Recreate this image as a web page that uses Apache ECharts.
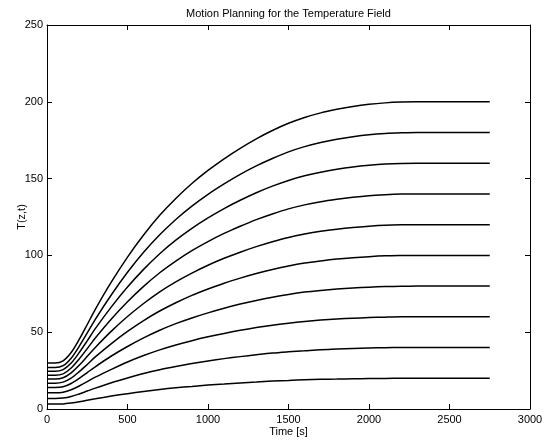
<!DOCTYPE html>
<html>
<head>
<meta charset="utf-8">
<script src="https://cdn.jsdelivr.net/npm/echarts@6/dist/echarts.min.js"></script>
<style>
  html, body { margin: 0; padding: 0; background: #fff; }
  #chart { width: 549px; height: 440px; }
</style>
</head>
<body>
<div id="chart"></div>
<script>
// Sample times [s]
const times = [0, 50, 100, 150, 200, 250, 300, 400, 500, 600, 700, 800, 900, 1000, 1100, 1200,
               1300, 1400, 1500, 1600, 1700, 1800, 1900, 2000, 2100, 2200, 2300, 2750];

// Temperature trajectories T(z,t) at ten positions z
const curve1  = [30, 30, 31.4, 36.8, 45.3, 55.0, 64.9, 82.7, 98.9, 113.3, 126.1, 137.1, 146.8, 155.3, 162.9, 169.7,
                 175.9, 181.3, 186.0, 189.8, 192.8, 195.1, 197.0, 198.4, 199.3, 199.8, 200, 200];
const curve2  = [27, 27, 28.2, 33.1, 40.8, 49.5, 58.4, 74.4, 89.0, 102.0, 113.4, 123.4, 132.1, 139.8, 146.6, 152.8,
                 158.3, 163.1, 167.4, 170.8, 173.5, 175.6, 177.3, 178.6, 179.4, 179.8, 180, 180];
const curve3  = [24.5, 24.5, 25.6, 29.9, 36.7, 44.4, 52.3, 66.5, 79.4, 90.9, 101.1, 109.9, 117.6, 124.4, 130.5, 135.9,
                 140.8, 145.1, 148.8, 151.8, 154.2, 156.1, 157.6, 158.7, 159.5, 159.9, 160, 160];
const curve4  = [22, 22, 22.9, 26.7, 32.6, 39.3, 46.2, 58.6, 69.8, 79.8, 88.7, 96.3, 103.1, 109.0, 114.3, 119.0,
                 123.3, 127.0, 130.3, 132.9, 135.0, 136.6, 137.9, 138.9, 139.5, 139.9, 140, 140];
const curve5  = [19.5, 19.5, 20.3, 23.5, 28.5, 34.3, 40.1, 50.7, 60.2, 68.7, 76.3, 82.8, 88.5, 93.6, 98.1, 102.1,
                 105.7, 108.9, 111.7, 113.9, 115.7, 117.1, 118.2, 119.0, 119.6, 119.9, 120, 120];
const curve6  = [16.8, 16.8, 17.5, 20.1, 24.3, 29.0, 33.9, 42.6, 50.5, 57.6, 63.8, 69.2, 74.0, 78.1, 81.9, 85.2,
                 88.2, 90.8, 93.1, 95.0, 96.4, 97.6, 98.5, 99.2, 99.7, 99.9, 100, 100];
const curve7  = [14, 14, 14.5, 16.6, 19.9, 23.7, 27.5, 34.5, 40.7, 46.3, 51.3, 55.6, 59.3, 62.6, 65.6, 68.3,
                 70.7, 72.8, 74.6, 76.1, 77.2, 78.1, 78.8, 79.3, 79.7, 79.9, 80, 80];
const curve8  = [10.5, 10.5, 10.9, 12.5, 15.0, 17.8, 20.7, 25.8, 30.6, 34.8, 38.5, 41.7, 44.5, 47.0, 49.2, 51.2,
                 53.0, 54.6, 55.9, 57.0, 57.9, 58.6, 59.1, 59.5, 59.8, 60.0, 60, 60];
const curve9  = [6.8, 6.8, 7.1, 8.1, 9.8, 11.7, 13.6, 17.1, 20.2, 23.1, 25.6, 27.7, 29.6, 31.3, 32.8, 34.1,
                 35.3, 36.4, 37.2, 37.9, 38.6, 39.0, 39.4, 39.7, 39.9, 40.0, 40, 40];
const curve10 = [3.2, 3.2, 3.3, 3.9, 4.7, 5.7, 6.6, 8.4, 10.0, 11.4, 12.7, 13.8, 14.7, 15.6, 16.3, 17.0,
                 17.6, 18.2, 18.6, 19.0, 19.3, 19.5, 19.7, 19.8, 19.9, 20.0, 20, 20];

const curves = [curve1, curve2, curve3, curve4, curve5, curve6, curve7, curve8, curve9, curve10];

const FONT = 'Liberation Sans, Arial, Helvetica, sans-serif';
const FS = 11;

const chart = echarts.init(document.getElementById('chart'), null, { renderer: 'canvas' });

// Box-style axis: black line with inward ticks on all four sides
const boxAxis = (pos, extra) => Object.assign({
  position: pos,
  axisLine: { show: true, onZero: false, lineStyle: { color: '#000', width: 1 } },
  axisTick: { show: true, inside: true, length: 5, lineStyle: { color: '#000' } },
  splitLine: { show: false }
}, extra);

const plain = v => String(v);

chart.setOption({
  animation: false,
  backgroundColor: '#fff',
  title: {
    text: 'Motion Planning for the Temperature Field',
    left: 288.5, top: 8, textAlign: 'center', padding: 0,
    textStyle: { fontFamily: FONT, fontSize: FS, fontWeight: 'normal', color: '#000' }
  },
  grid: { left: 47, right: 19, top: 25, bottom: 31, containLabel: false, outerBoundsMode: 'none' },
  xAxis: [
    boxAxis('bottom', {
      type: 'value', min: 0, max: 3000, interval: 500,
      name: 'Time [s]', nameLocation: 'middle', nameGap: 17, nameMoveOverlap: false,
      nameTextStyle: { fontFamily: FONT, fontSize: FS, color: '#000' },
      axisLabel: { fontFamily: FONT, fontSize: FS, color: '#000', margin: 5, formatter: plain }
    }),
    boxAxis('top', {
      type: 'value', min: 0, max: 3000, interval: 500,
      axisLabel: { show: false }
    })
  ],
  yAxis: [
    boxAxis('left', {
      type: 'value', min: 0, max: 250, interval: 50,
      name: 'T(z,t)', nameLocation: 'middle', nameGap: 20, nameMoveOverlap: false,
      nameTextStyle: { fontFamily: FONT, fontSize: FS, color: '#000' },
      axisLabel: { fontFamily: FONT, fontSize: FS, color: '#000', margin: 4, formatter: plain }
    }),
    boxAxis('right', {
      type: 'value', min: 0, max: 250, interval: 50,
      axisLabel: { show: false }
    })
  ],
  series: curves.map((c, i) => ({
    name: 'z' + (i + 1),
    type: 'line',
    xAxisIndex: 0,
    yAxisIndex: 0,
    data: times.map((t, k) => [t, c[k]]),
    showSymbol: false,
    symbol: 'none',
    smooth: 0.3,
    lineStyle: { color: '#000', width: 1.5 },
    silent: true
  }))
});
</script>
</body>
</html>
